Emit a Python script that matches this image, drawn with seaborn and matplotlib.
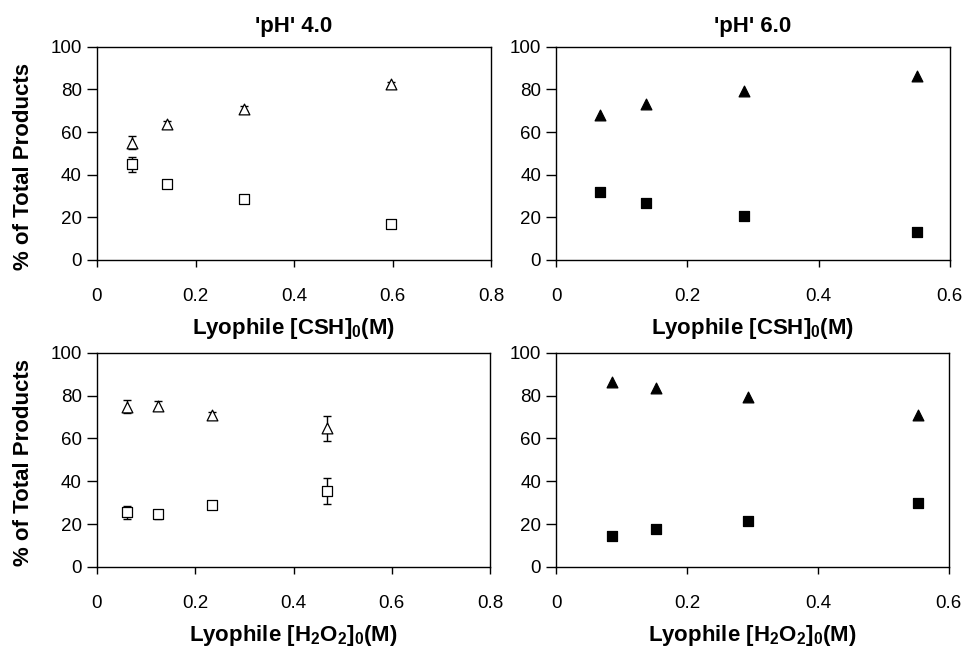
import matplotlib
matplotlib.use("Agg")
import matplotlib.pyplot as plt
import numpy as np
import pandas as pd
import seaborn as sns

# Data
csh_ph4 = [0.072, 0.143, 0.299, 0.597]
tri_csh_ph4 = [55.1, 63.8, 71.0, 82.6]
tri_csh_ph4_err = [3.1, 1.2, 1.2, 0.8]
sq_csh_ph4 = [44.9, 35.8, 28.5, 17.0]
sq_csh_ph4_err = [3.4, 0.8, 0.8, 0.8]

csh_ph6 = [0.066, 0.137, 0.286, 0.550]
tri_csh_ph6 = [68.1, 73.2, 79.2, 86.5]
sq_csh_ph6 = [31.8, 26.6, 20.8, 13.3]

h2o2_ph4 = [0.062, 0.124, 0.235, 0.468]
tri_h2o2_ph4 = [74.8, 75.4, 70.9, 64.7]
tri_h2o2_ph4_err = [3.0, 2.0, 1.5, 5.8]
sq_h2o2_ph4 = [25.4, 24.5, 29.0, 35.5]
sq_h2o2_ph4_err = [3.2, 2.0, 0.6, 5.9]

h2o2_ph6 = [0.085, 0.153, 0.293, 0.553]
tri_h2o2_ph6 = [86.6, 83.4, 79.6, 71.1]
sq_h2o2_ph6 = [14.3, 17.6, 21.3, 29.9]

titles = ["'pH' 4.0", "'pH' 6.0"]
xlabel_csh = r"Lyophile [CSH]$_\mathbf{0}$(M)"
xlabel_h2o2 = r"Lyophile [H$_\mathbf{2}$O$_\mathbf{2}$]$_\mathbf{0}$(M)"
ylabel = "% of Total Products"

sns.set_theme(style="ticks", rc={"text.color": "black", "axes.labelcolor": "black",
                                 "xtick.color": "black", "ytick.color": "black"})
plt.rcParams['font.family'] = ['Liberation Sans', 'DejaVu Sans']
plt.rcParams['mathtext.fontset'] = 'custom'
plt.rcParams['mathtext.bf'] = 'Liberation Sans:bold'
plt.rcParams['mathtext.rm'] = 'Liberation Sans'

fig = plt.figure(figsize=(9.66, 6.5), dpi=100)
axes = [
    fig.add_axes([0.1004, 0.600, 0.408, 0.328]),
    fig.add_axes([0.576, 0.600, 0.407, 0.328]),
    fig.add_axes([0.1004, 0.128, 0.407, 0.329]),
    fig.add_axes([0.576, 0.128, 0.406, 0.329]),
]

panels = [
    (csh_ph4, tri_csh_ph4, sq_csh_ph4, tri_csh_ph4_err, sq_csh_ph4_err, False, 0.8, xlabel_csh),
    (csh_ph6, tri_csh_ph6, sq_csh_ph6, None, None, True, 0.6, xlabel_csh),
    (h2o2_ph4, tri_h2o2_ph4, sq_h2o2_ph4, tri_h2o2_ph4_err, sq_h2o2_ph4_err, False, 0.8, xlabel_h2o2),
    (h2o2_ph6, tri_h2o2_ph6, sq_h2o2_ph6, None, None, True, 0.6, xlabel_h2o2),
]

for i, (ax, (x, tri, sq, tri_err, sq_err, filled, xmax, xlab)) in enumerate(zip(axes, panels)):
    face = "black" if filled else "white"
    if tri_err is not None:
        ax.errorbar(x, tri, yerr=tri_err, fmt="none", ecolor="black", elinewidth=1,
                    capsize=3, capthick=1, zorder=2)
        ax.errorbar(x, sq, yerr=sq_err, fmt="none", ecolor="black", elinewidth=1,
                    capsize=3, capthick=1, zorder=2)
    df_tri = pd.DataFrame({"x": x, "y": tri})
    df_sq = pd.DataFrame({"x": x, "y": sq})
    sns.scatterplot(data=df_tri, x="x", y="y", ax=ax, marker="^", s=60,
                    color=face, edgecolor="black", linewidth=0.9, zorder=3)
    sns.scatterplot(data=df_sq, x="x", y="y", ax=ax, marker="s", s=45,
                    color=face, edgecolor="black", linewidth=0.9, zorder=3)

    ax.set_xlim(0, xmax)
    ax.set_ylim(0, 100)
    ax.set_xticks(np.arange(0, xmax + 0.01, 0.2))
    ax.set_xticklabels(["0"] + [f"{t:.1f}" for t in np.arange(0.2, xmax + 0.01, 0.2)])
    ax.set_yticks(np.arange(0, 101, 20))
    ax.tick_params(axis="x", direction="out", length=5, width=1, labelsize=13.5, pad=15)
    ax.tick_params(axis="y", direction="out", length=7, width=1, labelsize=13.5, pad=4)
    for sp in ax.spines.values():
        sp.set_visible(True)
        sp.set_color("black")
        sp.set_linewidth(1)
    ax.set_xlabel(xlab, fontsize=16, fontweight="bold", labelpad=8)
    if i % 2 == 0:
        ax.set_ylabel(ylabel, fontsize=16, fontweight="bold")
        ax.yaxis.set_label_coords(-0.16, 0.44 if i == 0 else 0.49)
    else:
        ax.set_ylabel("")
    if i < 2:
        ax.set_title(titles[i], fontsize=16, fontweight="bold", pad=11)

fig.savefig("out.png", dpi=100)
